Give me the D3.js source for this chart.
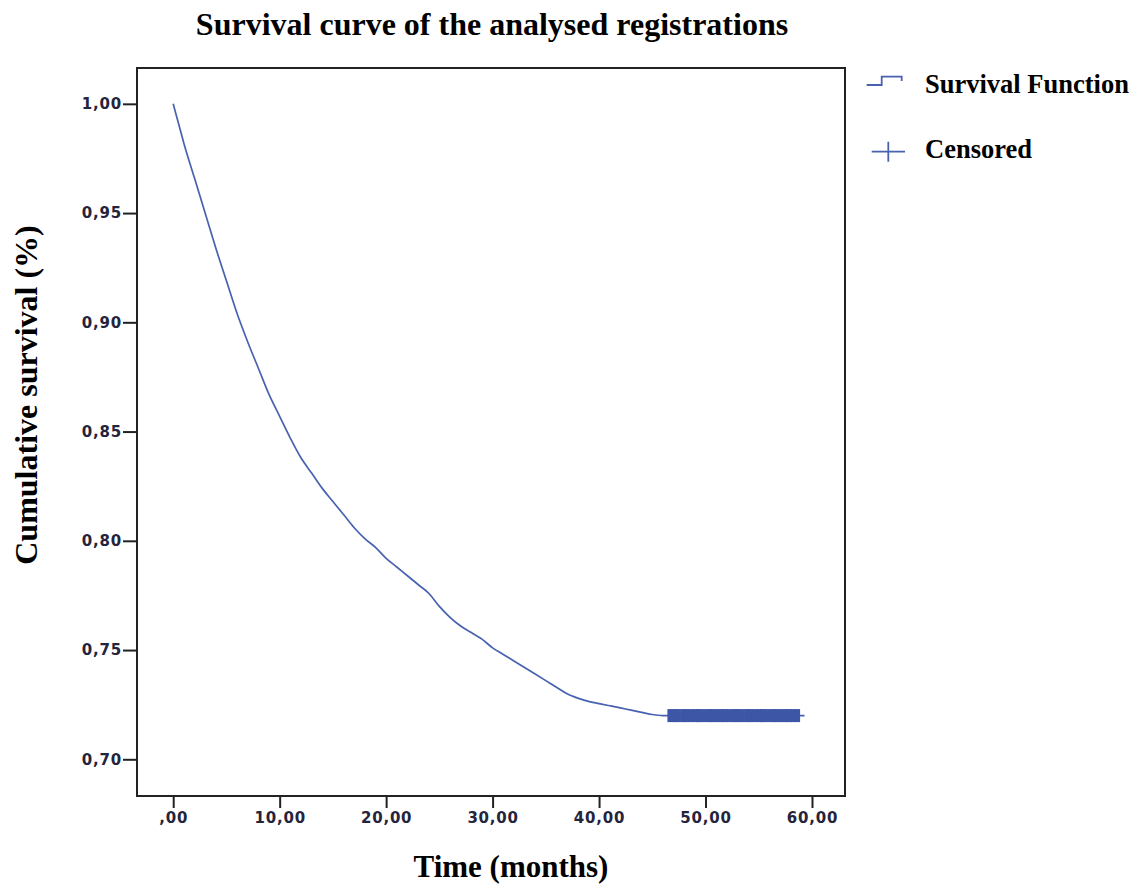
<!DOCTYPE html>
<html>
<head>
<meta charset="utf-8">
<script src="https://cdn.jsdelivr.net/npm/d3@7"></script>
<style>
  body { margin: 0; background: #fff; }
  svg { display: block; }
</style>
</head>
<body>
<div id="chart"></div>
<script>
// survival function (months, cumulative survival)
const times = [0, 0.5, 1, 2, 3, 4, 5, 6, 7, 8, 9, 10, 11, 12, 13, 14, 15, 16, 17, 18, 19, 20,
  21, 22, 23, 24, 25, 26, 27, 28, 29, 30, 31, 32, 33, 34, 35, 36, 37, 38, 39, 40,
  41, 42, 43, 44, 45, 46, 59.3];
const survival = [1.000, 0.991, 0.982, 0.966, 0.950, 0.934, 0.919, 0.904, 0.891, 0.879, 0.867, 0.857,
  0.847, 0.838, 0.831, 0.824, 0.818, 0.812, 0.806, 0.801, 0.797, 0.792,
  0.788, 0.784, 0.780, 0.776, 0.770, 0.765, 0.761, 0.758, 0.755, 0.751, 0.748, 0.745, 0.742, 0.739,
  0.736, 0.733, 0.730, 0.728, 0.7265, 0.7255, 0.7245, 0.7235, 0.7225, 0.7215, 0.7205, 0.720, 0.720];
// censored observations (all at the plateau)
const censoredTimes = [46.7, 47.1, 47.4, 47.9, 48.2, 48.6, 49.1, 49.4, 49.8, 50.3, 50.6, 51.0, 51.5,
  51.8, 52.2, 52.7, 53.0, 53.4, 53.9, 54.2, 54.6, 55.1, 55.4, 55.8, 56.3, 56.6, 57.0, 57.5, 57.8, 58.2, 58.6];
const censoredValue = 0.720;

const xTicks = [0, 10, 20, 30, 40, 50, 60];
const yTicks = [0.70, 0.75, 0.80, 0.85, 0.90, 0.95, 1.00];

const W = 1137, H = 887;
const plotL = 137, plotR = 845, plotT = 68, plotB = 796;
const blue = "#4862b0";

const svg = d3.select('#chart').append('svg')
  .attr('width', W)
  .attr('height', H);

const x = d3.scaleLinear().domain([-3.4, 63.1]).range([plotL, plotR]);
const y = d3.scaleLinear().domain([0.6832, 1.0164]).range([plotB, plotT]);

const fmt = v => {
  const s = d3.format('.2f')(v).replace('.', ',');
  return v === 0 ? s.slice(1) : s;
};

// frame
svg.append('rect')
  .attr('x', plotL).attr('y', plotT)
  .attr('width', plotR - plotL).attr('height', plotB - plotT)
  .attr('fill', 'none')
  .attr('stroke', '#222')
  .attr('stroke-width', 2);

const xAxis = svg.append('g')
  .attr('transform', `translate(0,${plotB})`)
  .call(d3.axisBottom(x).tickValues(xTicks).tickSize(12).tickPadding(4).tickFormat(fmt));

const yAxis = svg.append('g')
  .attr('transform', `translate(${plotL},0)`)
  .call(d3.axisLeft(y).tickValues(yTicks).tickSize(14).tickPadding(1).tickFormat(fmt));

[xAxis, yAxis].forEach(g => {
  g.select('.domain').remove();
  g.selectAll('.tick line').attr('stroke', '#222').attr('stroke-width', 2);
  g.selectAll('.tick text')
    .attr('fill', '#24243c')
    .attr('font-family', 'DejaVu Sans')
    .attr('font-weight', 'bold')
    .attr('font-size', '15px')
    .attr('letter-spacing', '0.8px');
});

// survival curve
const pts = times.map((t, i) => [t, survival[i]]);
svg.append('path')
  .datum(pts)
  .attr('fill', 'none')
  .attr('stroke', blue)
  .attr('stroke-width', 1.7)
  .attr('d', d3.line().curve(d3.curveMonotoneX).x(d => x(d[0])).y(d => y(d[1])));

// censored marks
svg.append('g')
  .selectAll('line')
  .data(censoredTimes)
  .join('line')
  .attr('x1', d => x(d)).attr('x2', d => x(d))
  .attr('y1', y(censoredValue) - 6.5).attr('y2', y(censoredValue) + 6.5)
  .attr('stroke', '#3d56a6')
  .attr('stroke-width', 6);

// titles
const serif = 'Liberation Serif, Times New Roman, serif';
svg.append('text')
  .attr('x', 492).attr('y', 35)
  .attr('text-anchor', 'middle')
  .attr('font-family', serif).attr('font-weight', 'bold').attr('font-size', '32px')
  .text('Survival curve of the analysed registrations');

svg.append('text')
  .attr('transform', 'translate(37,395) rotate(-90)')
  .attr('text-anchor', 'middle')
  .attr('font-family', serif).attr('font-weight', 'bold').attr('font-size', '32px')
  .text('Cumulative survival (%)');

svg.append('text')
  .attr('x', 511).attr('y', 877)
  .attr('text-anchor', 'middle')
  .attr('font-family', serif).attr('font-weight', 'bold').attr('font-size', '31px')
  .text('Time (months)');

// legend
const legend = svg.append('g');
legend.append('path')
  .attr('d', 'M866.7,85 H881.7 V76.7 H901.7 V81')
  .attr('fill', 'none').attr('stroke', blue).attr('stroke-width', 1.8);
legend.append('path')
  .attr('d', 'M871.7,151.7 H905 M888.3,141.7 V161.7')
  .attr('fill', 'none').attr('stroke', blue).attr('stroke-width', 1.8);
legend.selectAll('text.lg')
  .data([['Survival Function', 93], ['Censored', 158]])
  .join('text')
  .attr('class', 'lg')
  .attr('x', 925).attr('y', d => d[1])
  .attr('font-family', serif).attr('font-weight', 'bold').attr('font-size', '26.5px')
  .text(d => d[0]);
</script>
</body>
</html>
